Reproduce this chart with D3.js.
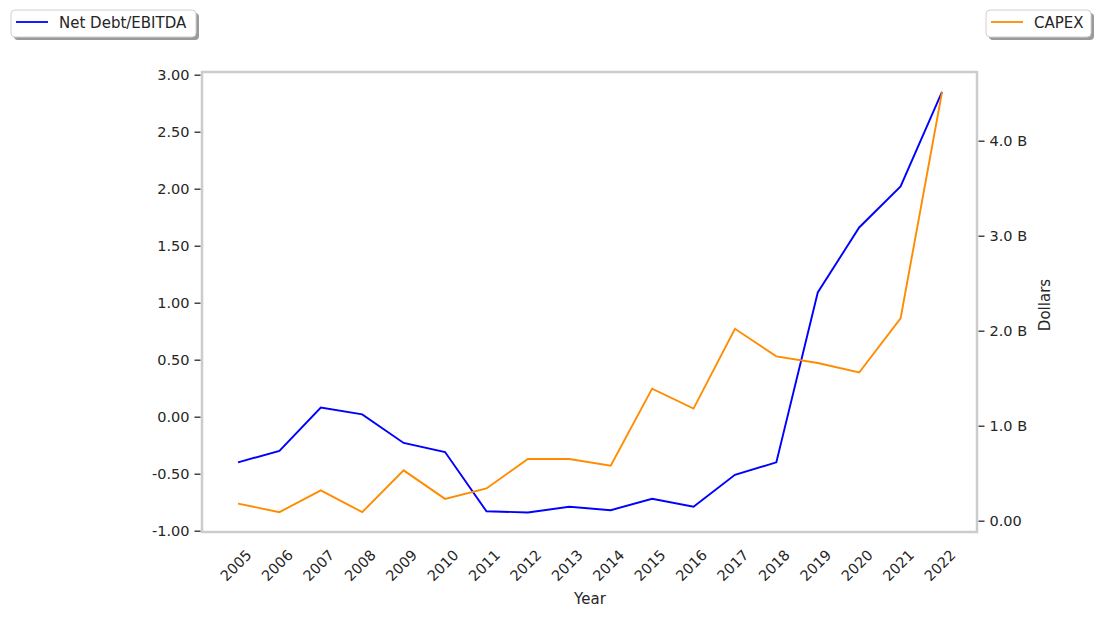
<!DOCTYPE html>
<html>
<head>
<meta charset="utf-8">
<script src="https://cdn.jsdelivr.net/npm/d3@7"></script>
<style>
  body { margin: 0; background: #fff; }
  svg { display: block; }
  text { font-family: "DejaVu Sans", sans-serif; fill: #262626; }
</style>
</head>
<body>
<svg id="chart" width="1100" height="618"></svg>
<script>
const years = [2005,2006,2007,2008,2009,2010,2011,2012,2013,2014,2015,2016,2017,2018,2019,2020,2021,2022];
const netDebtEbitda = [-0.40,-0.30,0.08,0.02,-0.23,-0.31,-0.83,-0.84,-0.79,-0.82,-0.72,-0.79,-0.51,-0.40,1.09,1.66,2.02,2.85];
const capex = [0.18e9,0.09e9,0.32e9,0.09e9,0.53e9,0.23e9,0.34e9,0.65e9,0.65e9,0.58e9,1.39e9,1.18e9,2.02e9,1.73e9,1.66e9,1.56e9,2.13e9,4.51e9];
const leftTicks = [-1.0,-0.5,0.0,0.5,1.0,1.5,2.0,2.5,3.0];
const rightTicks = [0,1e9,2e9,3e9,4e9];

const svg = d3.select("#chart");
const frame = {left: 202, right: 977, top: 72, bottom: 532};

const x = d3.scaleLinear().domain([2005, 2022]).range([238, 942]);
const yL = d3.scaleLinear().domain([-1, 3]).range([530.7, 74.7]);
const yR = d3.scaleLinear().domain([0, 4e9]).range([520.7, 140.7]);

const fmtR = v => v === 0 ? "0.00" : (v / 1e9).toFixed(1) + " B";
const TICK_FS = "14.5px";

// lines
const lineL = d3.line().x((d, i) => x(years[i])).y(d => yL(d));
const lineR = d3.line().x((d, i) => x(years[i])).y(d => yR(d));

svg.append("path").datum(netDebtEbitda).attr("d", lineL)
  .attr("fill", "none").attr("stroke", "#0000ff").attr("stroke-width", 1.9);
svg.append("path").datum(capex).attr("d", lineR)
  .attr("fill", "none").attr("stroke", "#ff8c00").attr("stroke-width", 1.9);

// frame
svg.append("rect")
  .attr("x", frame.left).attr("y", frame.top)
  .attr("width", frame.right - frame.left).attr("height", frame.bottom - frame.top)
  .attr("fill", "none").attr("stroke", "#cccccc").attr("stroke-width", 2.5);

// left axis
const gL = svg.append("g").attr("transform", `translate(${frame.left - 1.5},0)`)
  .call(d3.axisLeft(yL).tickValues(leftTicks).tickFormat(d3.format(".2f")).tickSize(6).tickPadding(5));
gL.select(".domain").remove();
gL.selectAll(".tick line").attr("stroke", "#262626").attr("stroke-width", 1.3);
gL.selectAll(".tick text").style("font-size", TICK_FS).attr("fill", "#262626")
  .text(d => d3.format(".2f")(d).replace("−", "-"));

// right axis
const gR = svg.append("g").attr("transform", `translate(${frame.right + 1.5},0)`)
  .call(d3.axisRight(yR).tickValues(rightTicks).tickFormat(fmtR).tickSize(6).tickPadding(5));
gR.select(".domain").remove();
gR.selectAll(".tick line").attr("stroke", "#262626").attr("stroke-width", 1.3);
gR.selectAll(".tick text").style("font-size", TICK_FS).attr("fill", "#262626");

// bottom axis
const gB = svg.append("g").attr("transform", `translate(0,${frame.bottom})`)
  .call(d3.axisBottom(x).tickValues(years).tickFormat(d3.format("d")).tickSize(0).tickPadding(0));
gB.select(".domain").remove();
gB.selectAll(".tick text")
  .style("font-size", TICK_FS).attr("fill", "#262626")
  .attr("text-anchor", "end")
  .attr("dy", "0")
  .attr("transform", "translate(14,24) rotate(-45)");

// axis labels
svg.append("text").attr("x", 590).attr("y", 604).attr("text-anchor", "middle")
  .style("font-size", "15px").text("Year");
svg.append("text").attr("transform", "translate(1050,305) rotate(-90)")
  .attr("text-anchor", "middle").style("font-size", "15px").text("Dollars");

// legends
function legend(x0, y0, w, label, color) {
  const g = svg.append("g");
  g.append("rect").attr("x", x0 + 3).attr("y", y0 + 3).attr("width", w).attr("height", 27)
    .attr("rx", 4).attr("fill", "#9a9a9a");
  g.append("rect").attr("x", x0).attr("y", y0).attr("width", w).attr("height", 27)
    .attr("rx", 4).attr("fill", "#fff").attr("stroke", "#d0d0d0").attr("stroke-width", 1);
  g.append("line").attr("x1", x0 + 5).attr("x2", x0 + 37).attr("y1", y0 + 12).attr("y2", y0 + 12)
    .attr("stroke", color).attr("stroke-width", 1.8);
  g.append("text").attr("x", x0 + 48).attr("y", y0 + 18).style("font-size", "15px").text(label);
}
legend(11, 10, 185, "Net Debt/EBITDA", "#0000ff");
legend(986, 10, 105, "CAPEX", "#ff8c00");
</script>
</body>
</html>
